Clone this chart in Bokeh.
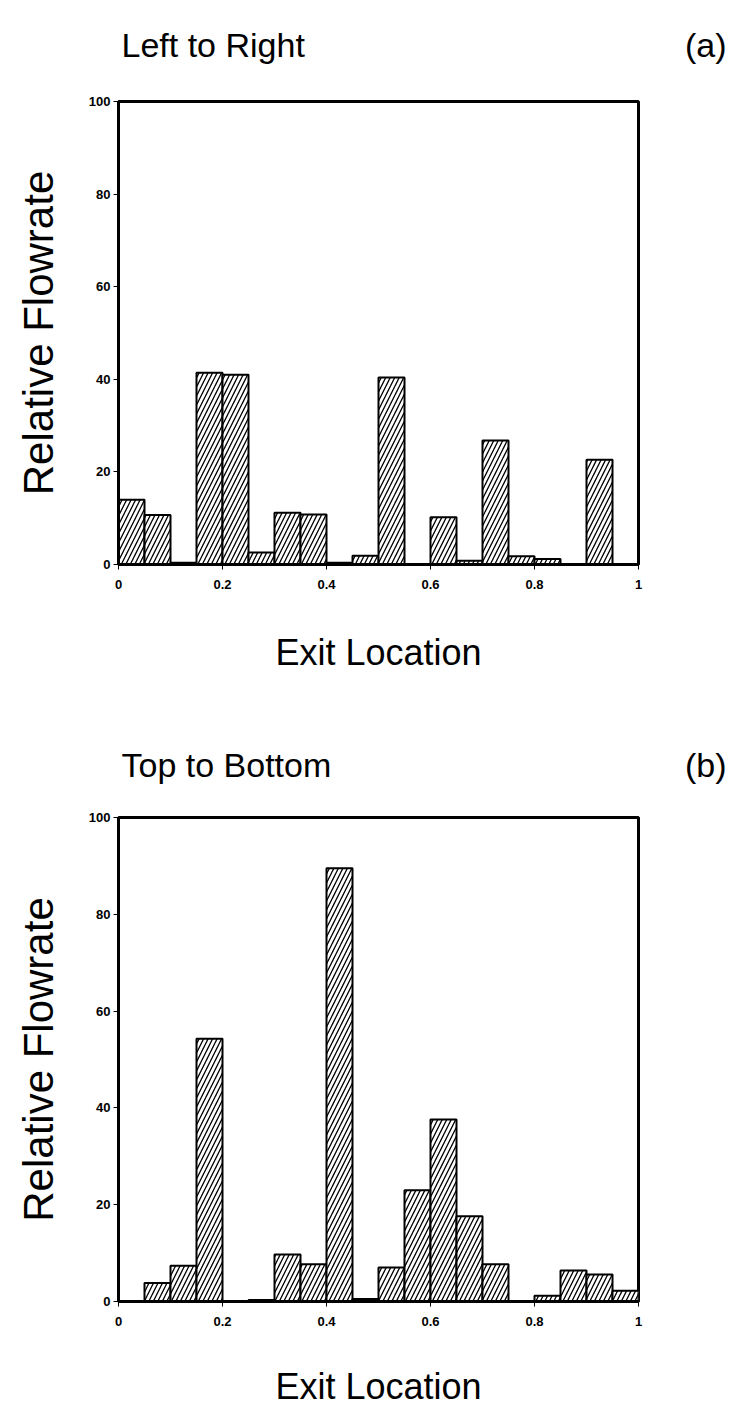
from bokeh.plotting import figure
from bokeh.layouts import column, row
from bokeh.models import Range1d, FixedTicker, ColumnDataSource
from bokeh.core.properties import value
from bokeh.embed import file_html
from bokeh.resources import INLINE

# ---- data ----
bin_left = [0.00, 0.05, 0.10, 0.15, 0.20, 0.25, 0.30, 0.35, 0.40, 0.45,
            0.50, 0.55, 0.60, 0.65, 0.70, 0.75, 0.80, 0.85, 0.90, 0.95]
bin_right = [0.05, 0.10, 0.15, 0.20, 0.25, 0.30, 0.35, 0.40, 0.45, 0.50,
             0.55, 0.60, 0.65, 0.70, 0.75, 0.80, 0.85, 0.90, 0.95, 1.00]
flow_left_to_right = [14.0, 10.7, 0.4, 41.4, 41.0, 2.6, 11.2, 10.8, 0.4, 1.9,
                      40.4, 0.0, 10.2, 0.8, 26.8, 1.8, 1.2, 0.0, 22.6, 0.0]
flow_top_to_bottom = [0.0, 3.8, 7.4, 54.3, 0.0, 0.3, 9.7, 7.7, 89.5, 0.5,
                      7.0, 23.0, 37.6, 17.6, 7.7, 0.0, 1.2, 6.4, 5.6, 2.2]
x_ticks = [0, 0.2, 0.4, 0.6, 0.8, 1]
x_tick_labels = ["0", "0.2", "0.4", "0.6", "0.8", "1"]
y_ticks = [0, 20, 40, 60, 80, 100]
titles = ["Left to Right", "Top to Bottom"]
tags = ["(a)", "(b)"]

FONT = "Liberation Sans"
W = 731


def make_header(title, tag, height, baseline_from_top):
    h = figure(width=W, height=height, output_backend="svg", toolbar_location=None,
               x_range=Range1d(0, W), y_range=Range1d(0, height),
               x_axis_location=None, y_axis_location=None,
               min_border_left=0, min_border_right=0, min_border_top=0,
               min_border_bottom=0,
               outline_line_color=None, background_fill_color="white",
               border_fill_color="white")
    h.grid.visible = False
    yb = height - baseline_from_top
    h.text(x=[121], y=[yb], text=[title], text_font=value(FONT),
           text_font_size="34px", text_color="black",
           text_baseline="alphabetic", text_align="left")
    h.text(x=[726], y=[yb], text=[tag], text_font=value(FONT),
           text_font_size="34px", text_color="black",
           text_baseline="alphabetic", text_align="right")
    return h


def make_panel(values, height, b_top, b_bottom, xlabel_standoff):
    p = figure(width=W, height=height, output_backend="svg", toolbar_location=None,
               x_range=Range1d(0, 1), y_range=Range1d(0, 100),
               min_border_top=b_top, min_border_bottom=b_bottom,
               min_border_left=118, min_border_right=W - 638,
               background_fill_color="white", border_fill_color="white")
    p.xgrid.visible = False
    p.ygrid.visible = False
    p.outline_line_color = "black"
    p.outline_line_width = 3

    src = ColumnDataSource(dict(left=bin_left, right=bin_right, top=values,
                                bottom=[0] * len(values)))
    p.quad(left="left", right="right", top="top", bottom="bottom", source=src,
           fill_color="white", line_color="black", line_width=2,
           hatch_pattern="right_diagonal_line", hatch_color="black",
           hatch_weight=1.3, hatch_scale=9)

    xa = p.xaxis[0]
    xa.ticker = FixedTicker(ticks=x_ticks)
    xa.major_label_overrides = {t: l for t, l in zip(x_ticks, x_tick_labels)}
    xa.axis_label = "Exit Location"
    ya = p.yaxis[0]
    ya.ticker = FixedTicker(ticks=y_ticks)
    ya.axis_label = "Relative Flowrate"
    for ax in (xa, ya):
        ax.axis_line_width = 3
        ax.axis_line_color = "black"
        ax.major_tick_in = 0
        ax.major_tick_out = 5
        ax.major_tick_line_width = 1
        ax.minor_tick_line_color = None
        ax.major_label_text_font = FONT
        ax.major_label_text_font_style = "bold"
        ax.major_label_text_font_size = "13px"
        ax.major_label_text_color = "black"
        ax.axis_label_text_font = FONT
        ax.axis_label_text_font_style = "normal"
        ax.axis_label_text_color = "black"
    xa.major_label_standoff = 10
    xa.axis_label_text_font_size = "36px"
    xa.axis_label_standoff = xlabel_standoff
    ya.major_label_standoff = 3
    ya.axis_label_text_font_size = "42px"
    ya.axis_label_standoff = 24
    return p


h1 = make_header(titles[0], tags[0], 80, 44)
p1 = make_panel(flow_left_to_right, 640, 101 - 80, 720 - 564, 40)
h2 = make_header(titles[1], tags[1], 80, 44)
p2 = make_panel(flow_top_to_bottom, 614, 817 - 800, 1414 - 1301, 37)

layout = column(row(h1), p1, row(h2), p2, spacing=0)
open("out.html", "w").write(file_html(layout, INLINE))
